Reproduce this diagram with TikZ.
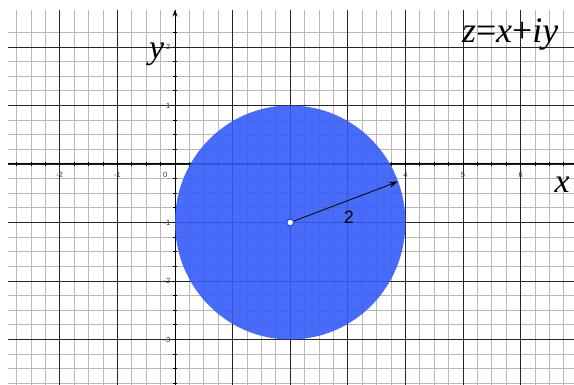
\documentclass[tikz,border=0pt]{standalone}
\usepackage{fontspec}
\setmainfont{Liberation Serif}
\newfontfamily\arialf{Liberation Sans}
\usetikzlibrary{arrows.meta}
\definecolor{discblue}{RGB}{52,92,247}
\definecolor{ringblue}{RGB}{40,80,240}
\tikzset{
  minorline/.style={black!28, line width=0.8bp},
  majorline/.style={black!85, line width=0.9bp},
  axisline/.style={black, line width=1bp},
  ticklabel/.style={font=\arialf\fontsize{7.5}{8}\selectfont, text=black!80, inner sep=0pt},
  biglabel/.style={font=\fontsize{34}{36}\selectfont, inner sep=0pt},
  disc/.style={fill=discblue, fill opacity=0.9, draw=none},
  centerdot/.style={circle, draw=ringblue, fill=white, line width=1.3bp, minimum size=7bp, inner sep=0pt},
  radiusarrow/.style={black, line width=0.8bp, -{Stealth[length=9bp,width=6bp]}},
}
\begin{document}
\begin{tikzpicture}[x=57.6bp, y=58.5bp]
\useasboundingbox (-3.0382,-3.7778) rectangle (6.9271,2.8034);
% minor grid
\foreach \i in {-15,...,9} {
  \draw[minorline] (-2.899,\i/4) -- (6.93,\i/4);
}
\foreach \i in {-11,...,27} {
  \draw[minorline] (\i/4,-3.79) -- (\i/4,2.632);
}
% major grid
\foreach \i in {-3,...,2} {
  \draw[majorline] (-2.899,\i) -- (6.93,\i);
}
\foreach \i in {-2,...,6} {
  \draw[majorline] (\i,-3.79) -- (\i,2.632);
}
% axes
\coordinate (xl) at (-2.899,0);
\coordinate (xr) at (6.93,0);
\coordinate (yb) at (0,-3.79);
\coordinate (yt) at (0,2.64);
\draw[axisline] (xl) -- (xr);
\draw[axisline, -{Stealth[length=7bp,width=5bp]}] (yb) -- (yt);
\foreach \i in {-11,...,27} {
  \draw[black, line width=0.8bp] (\i/4,-0.035) -- (\i/4,0.035);
}
\foreach \i in {-15,...,9} {
  \draw[black, line width=0.8bp] (-0.035,\i/4) -- (0.035,\i/4);
}
% tick labels
\foreach \i in {-2,-1,1,2,3,4,5,6} {
  \node[ticklabel] (tx\i) at (\i,-0.18) {\i};
}
\node[ticklabel] (tx0) at (-0.17,-0.18) {0};
\foreach \i in {-3,-2,-1,1,2} {
  \node[ticklabel, anchor=east] (ty\i) at (-0.08,\i) {\i};
}
% disc
\fill[disc] (2,-1) ellipse [x radius=2, y radius=2];
% center and radius
\coordinate (rend) at (3.87,-0.30);
\node[centerdot] (c) at (2,-1) {};
\draw[radiusarrow] (c) -- (rend);
\node[font=\arialf\fontsize{18}{20}\selectfont, inner sep=0pt] (rlab) at (3.02,-0.91) {2};
% big labels
\node[biglabel] (ylab) at (-0.32,1.88) {\textit{y}};
\node[biglabel] (xlab) at (6.72,-0.36) {\textit{x}};
\node[biglabel, font=\fontsize{36}{38}\selectfont, anchor=base west] (formula) at (4.98,2.08) {\textit{z}=\textit{x}+\textit{iy}};
\end{tikzpicture}
\end{document}
